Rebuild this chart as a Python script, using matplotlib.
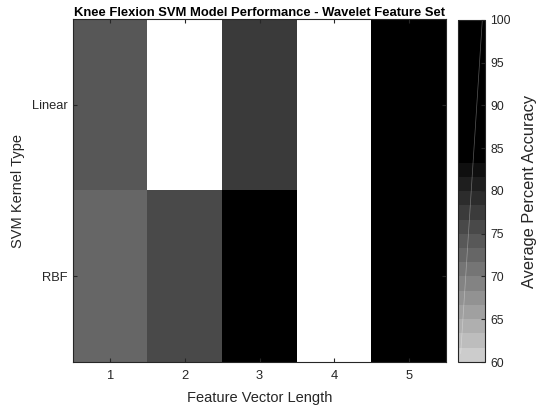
import numpy as np
import matplotlib
matplotlib.use("Agg")
import matplotlib.pyplot as plt
from matplotlib.colors import ListedColormap

plt.rcParams['font.family'] = ['Liberation Sans', 'DejaVu Sans']

feature_lengths = [1, 2, 3, 4, 5]
kernels = ['Linear', 'RBF']
linear_acc = [74.0, np.nan, 77.5, np.nan, 92.0]
rbf_acc = [72.5, 75.8, 95.0, np.nan, 93.0]
cbar_ticks = [60, 65, 70, 75, 80, 85, 90, 95, 100]

data = np.array([linear_acc, rbf_acc])

# discrete gray colormap: 14 gray steps then black
grays = list(np.linspace(0.80, 0.06, 14)) + [0.0] * 10
cmap = ListedColormap([(g, g, g) for g in grays])
cmap.set_bad('white')

W, H = 536, 411
fig = plt.figure(figsize=(W / 100, H / 100), dpi=100)
ax = fig.add_axes([73 / W, 1 - 362 / H, (446 - 73) / W, (362 - 19) / H])
cax = fig.add_axes([458 / W, 1 - 362 / H, (485 - 458) / W, (362 - 20) / H])

masked = np.ma.masked_invalid(data)
im = ax.imshow(masked, cmap=cmap, vmin=60, vmax=100, aspect='auto',
               extent=[0.5, len(feature_lengths) + 0.5, len(kernels) + 0.5, 0.5],
               interpolation='nearest')
ax.set_xticks(feature_lengths)
ax.set_yticks([1, 2])
ax.set_yticklabels(kernels)
ax.tick_params(direction='in', length=3, colors='#262626', labelsize=9.3,
               top=True, right=True, labelcolor='#262626')
ax.tick_params(axis='x', pad=6)
ax.tick_params(axis='y', pad=4)
for s in ax.spines.values():
    s.set_color('#262626')
    s.set_linewidth(0.8)
ax.set_xlabel('Feature Vector Length', fontsize=10.5, color='#262626', labelpad=6)
ax.set_ylabel('SVM Kernel Type', fontsize=10.5, color='#262626', labelpad=5)
ax.set_title('Knee Flexion SVM Model Performance - Wavelet Feature Set',
             fontsize=9.4, fontweight='bold', pad=2)

cb = fig.colorbar(im, cax=cax, ticks=cbar_ticks)
cb.outline.set_edgecolor('#262626')
cb.outline.set_linewidth(0.8)
cax.tick_params(direction='in', length=3, colors='#262626', labelsize=8.8, pad=4)
cb.set_label('Average Percent Accuracy', fontsize=11.8, color='#262626', labelpad=8)
cax.plot([0.1, 0.9], [61, 100], color='white', lw=0.5, alpha=0.35)
cax.set_xlim(0, 1)

fig.savefig('out.png', dpi=100)
